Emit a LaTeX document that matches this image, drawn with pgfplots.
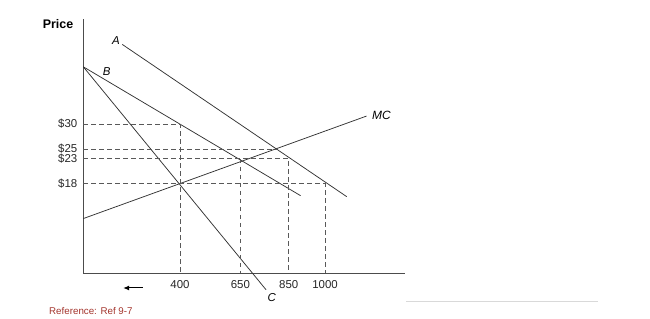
\documentclass[border=0pt]{standalone}
\usepackage{pgfplots}
\pgfplotsset{compat=1.18}
\usepackage{fontspec}
\setmainfont{Liberation Sans}
\usetikzlibrary{arrows.meta}
\definecolor{refred}{HTML}{A3342C}
\pgfplotsset{
  curve/.style={black!80, line width=0.75bp, mark=none, solid},
  guide/.style={black!65, line width=0.7bp, mark=none, dash pattern=on 4.5bp off 3.5bp},
}
\begin{document}
\begin{tikzpicture}[x=1bp,y=1bp]
\path (0,0) rectangle (650,-318);
\begin{axis}[
  at={(83.3bp,-273.3bp)}, anchor=south west,
  scale only axis, width=321.7bp, height=254.3bp,
  xmin=0, xmax=1331, ymin=0, ymax=51.1,
  axis x line=bottom, axis y line=left,
  axis line style={-, line width=0.9bp, color=black!70},
  xtick={400,650,850,1000}, xticklabels={400,650,850,1000},
  ytick={18,23,25,30}, yticklabels={\$18,\$23,\$25,\$30},
  major tick length=0pt,
  tick label style={font=\fontsize{11.5}{12}\selectfont, text=black!85},
  yticklabel style={xshift=-2.5bp},
  xticklabel style={yshift=-4bp},
  clip=false,
]
% curves
\addplot[curve] coordinates {(161,46) (1090,15.4)};            % A
\addplot[curve] coordinates {(0,41.5) (899,15.6)};              % B
\addplot[curve] coordinates {(0,41.5) (756,-3.3)};              % C
\addplot[curve] coordinates {(0,11) (1172,31.6)};               % MC
% dashed guides
\addplot[guide] coordinates {(0,30) (400,30) (400,0)};
\addplot[guide] coordinates {(0,25) (800,25)};
\addplot[guide] coordinates {(0,23) (850,23) (850,0)};
\addplot[guide] coordinates {(650,23) (650,0)};
\addplot[guide] coordinates {(0,18) (1000,18) (1000,0)};
% labels
\node[font=\bfseries\fontsize{12.5}{13}\selectfont] at (axis cs:-104.7,50.1) {Price};
\node[font=\itshape\fontsize{11.5}{12}\selectfont] at (axis cs:135,46.7) {A};
\node[font=\itshape\fontsize{11.5}{12}\selectfont] at (axis cs:97,40.5) {B};
\node[font=\itshape\fontsize{11.5}{12}\selectfont] at (axis cs:780,-4.8) {C};
\node[font=\itshape\fontsize{12}{13}\selectfont, anchor=west, inner sep=0pt] at (axis cs:1194,31.8) {MC};
\draw[-{Latex[length=6bp,width=5bp]}, line width=1bp, black] (axis cs:245,-2.95) -- (axis cs:165,-2.95);
\end{axis}
\draw[black!15, line width=1bp] (406,-301.7) -- (598,-301.7);
\node[anchor=west, inner sep=0pt, text=refred, font=\fontsize{9.8}{11}\selectfont] at (49,-311.5) {Reference: Ref 9-7};
\end{tikzpicture}
\end{document}
